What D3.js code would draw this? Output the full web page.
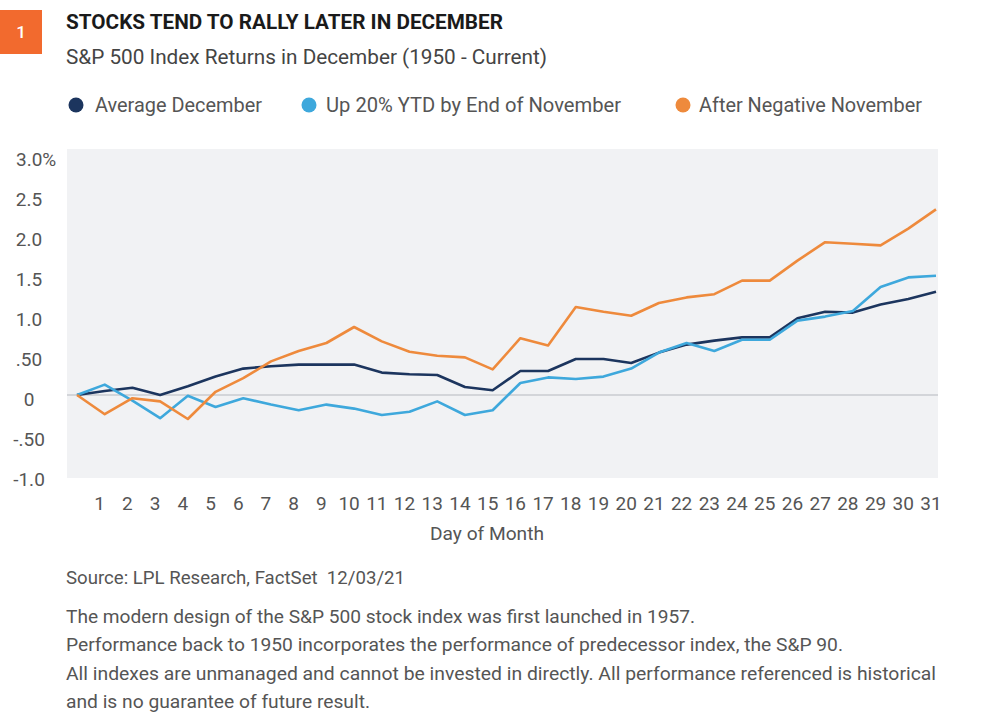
<!DOCTYPE html>
<html>
<head>
<meta charset="utf-8">
<script src="https://cdn.jsdelivr.net/npm/d3@7"></script>
<style>
  html, body { margin: 0; padding: 0; background: #fff; }
  svg text { font-family: Roboto, "Noto Sans", sans-serif; white-space: pre; }
</style>
</head>
<body>
<svg id="chart" width="1000" height="721"></svg>
<script>
const days = d3.range(0, 32);
const dayLabels = d3.range(1, 32).map(String);
const avgDecember = [0, 0.05, 0.09, 0.0, 0.11, 0.23, 0.33, 0.36, 0.38, 0.38, 0.38, 0.28, 0.26, 0.25, 0.10, 0.06, 0.30, 0.30, 0.45, 0.45, 0.40, 0.53, 0.63, 0.68, 0.72, 0.72, 0.96, 1.04, 1.03, 1.13, 1.20, 1.29];
const up20YTD = [0, 0.13, -0.07, -0.29, -0.01, -0.15, -0.04, -0.12, -0.19, -0.12, -0.17, -0.25, -0.21, -0.08, -0.25, -0.19, 0.15, 0.22, 0.20, 0.23, 0.33, 0.53, 0.65, 0.55, 0.69, 0.69, 0.93, 0.98, 1.05, 1.35, 1.47, 1.49];
const afterNegNov = [0, -0.24, -0.04, -0.08, -0.30, 0.04, 0.21, 0.42, 0.55, 0.65, 0.85, 0.67, 0.54, 0.49, 0.47, 0.32, 0.71, 0.62, 1.10, 1.04, 0.99, 1.15, 1.22, 1.26, 1.43, 1.43, 1.68, 1.91, 1.89, 1.87, 2.08, 2.32];
const yTicks = [3.0, 2.5, 2.0, 1.5, 1.0, 0.5, 0, -0.5, -1.0];
const yTickLabels = ["3.0%", "2.5", "2.0", "1.5", "1.0", ".50", "0", "-.50", "-1.0"];
const seriesNames = ["Average December", "Up 20% YTD by End of November", "After Negative November"];
const seriesColors = ["#1c355e", "#3ea8dc", "#ee8a3c"];
const seriesData = [avgDecember, up20YTD, afterNegNov];

const svg = d3.select("#chart");
const x = d3.scaleLinear().domain([0, 31]).range([77, 936]);
const y = d3.scaleLinear().domain([-1.0375, 3.075]).range([478, 149]);

function fitText(sel, txt, px, py, width, opts) {
  const t = sel.append("text").attr("x", px).attr("y", py).text(txt)
    .attr("font-size", opts.size).attr("fill", opts.fill)
    .attr("font-weight", opts.weight || 400);
  if (width) t.attr("textLength", width).attr("lengthAdjust", "spacingAndGlyphs");
  if (opts.anchor) t.attr("text-anchor", opts.anchor);
  return t;
}

// Header badge
svg.append("rect").attr("x", 0).attr("y", 10).attr("width", 42).attr("height", 44).attr("fill", "#f26a2e");
fitText(svg, "1", 21, 38, null, {size: 17, fill: "#fff", weight: 500, anchor: "middle"});
fitText(svg, "STOCKS TEND TO RALLY LATER IN DECEMBER", 66, 29, 437, {size: 20, fill: "#1a1a1a", weight: 700});
fitText(svg, "S&P 500 Index Returns in December (1950 - Current)", 66, 64, 481, {size: 19.5, fill: "#444"});

// Legend
const legendPos = [{cx: 76, tx: 95, w: 167}, {cx: 309, tx: 326, w: 295}, {cx: 683, tx: 699, w: 223}];
seriesNames.forEach((name, i) => {
  svg.append("circle").attr("cx", legendPos[i].cx).attr("cy", 105).attr("r", 7.5).attr("fill", seriesColors[i]);
  fitText(svg, name, legendPos[i].tx, 112, legendPos[i].w, {size: 20, fill: "#555"});
});

// Plot background
svg.append("rect").attr("x", 67).attr("y", y(3.075)).attr("width", 938 - 67)
  .attr("height", y(-1.0375) - y(3.075)).attr("fill", "#f1f2f4");

// zero line
svg.append("line").attr("x1", 67).attr("x2", 938).attr("y1", y(0)).attr("y2", y(0))
  .attr("stroke", "#d3d5d9").attr("stroke-width", 2);

// Y tick labels
yTicks.forEach((v, i) => {
  const lbl = yTickLabels[i];
  if (lbl.endsWith("%")) {
    svg.append("text").attr("x", 16).attr("y", y(v) + 4).attr("dy", "0.35em")
      .attr("font-size", 19).attr("fill", "#555").text(lbl);
  } else {
    svg.append("text").attr("x", 29).attr("y", y(v) + 4).attr("dy", "0.35em")
      .attr("text-anchor", "middle").attr("font-size", 19).attr("fill", "#555").text(lbl);
  }
});

// X tick labels
dayLabels.forEach((lbl, i) => {
  svg.append("text").attr("x", x(i + 1) - 5).attr("y", 510)
    .attr("text-anchor", "middle").attr("font-size", 19).attr("fill", "#555").text(lbl);
});
fitText(svg, "Day of Month", 487, 540, 114, {size: 19, fill: "#555", anchor: "middle"});

// Lines
const line = d3.line().x((d, i) => x(days[i])).y(d => y(d));
seriesData.forEach((s, i) => {
  svg.append("path").datum(s).attr("d", line).attr("fill", "none")
    .attr("stroke", seriesColors[i]).attr("stroke-width", 2.6).attr("stroke-linejoin", "round");
});

// Footer
fitText(svg, "Source: LPL Research, FactSet  12/03/21", 66, 584, 339, {size: 18, fill: "#555"});
const notes = [
  ["The modern design of the S&P 500 stock index was first launched in 1957.", 629],
  ["Performance back to 1950 incorporates the performance of predecessor index, the S&P 90.", 777],
  ["All indexes are unmanaged and cannot be invested in directly. All performance referenced is historical", 870],
  ["and is no guarantee of future result.", 304]
];
const noteY = [623, 651, 680, 708];
notes.forEach((n, i) => fitText(svg, n[0], 66, noteY[i], n[1], {size: 18, fill: "#555"}));
</script>
</body>
</html>
